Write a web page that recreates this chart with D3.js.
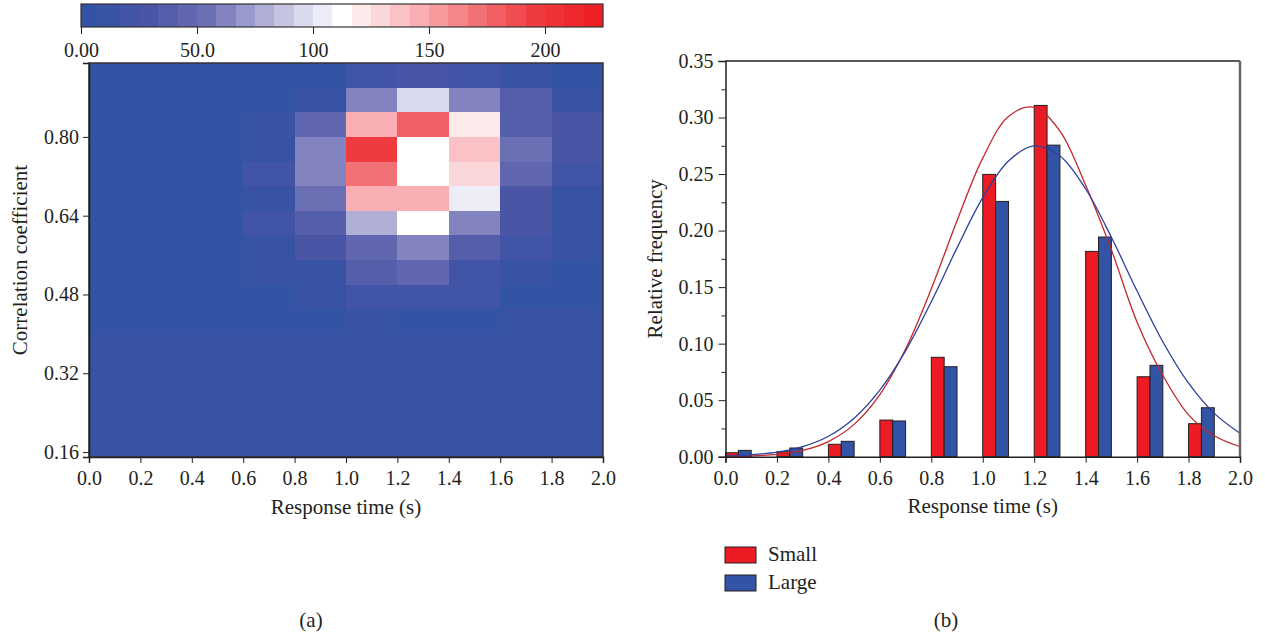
<!DOCTYPE html>
<html>
<head>
<meta charset="utf-8">
<script src="https://cdn.jsdelivr.net/npm/d3@7"></script>
<style>
  body { margin: 0; background: #fff; }
  svg { display: block; font-family: "Liberation Serif", "DejaVu Serif", serif; }
  .tick text { font-family: "Liberation Serif", "DejaVu Serif", serif; font-size: 20px; fill: #231f20; }
  .axis-title { font-family: "Liberation Serif", "DejaVu Serif", serif; font-size: 21px; fill: #231f20; }
</style>
</head>
<body>
<script>
// (a) heatmap: columns are response time bins, rows are correlation bins (top -> bottom)
const timeBins = [0.0, 0.2, 0.4, 0.6, 0.8, 1.0, 1.2, 1.4, 1.6, 1.8]
const corrBins = [0.90, 0.85, 0.80, 0.75, 0.70, 0.65, 0.60, 0.55, 0.50, 0.45, 0.40, 0.35, 0.30, 0.25, 0.20, 0.15]
const heatValues = [
  [4, 4, 4, 4, 4, 21, 29, 21, 12, 4],
  [4, 4, 4, 4, 12, 62, 96, 62, 37, 12],
  [4, 4, 4, 12, 46, 146, 179, 121, 37, 29],
  [4, 4, 4, 12, 62, 196, 112, 137, 54, 29],
  [4, 4, 4, 21, 62, 171, 112, 129, 46, 21],
  [4, 4, 4, 12, 54, 146, 146, 104, 29, 12],
  [4, 4, 4, 21, 37, 79, 112, 62, 29, 12],
  [4, 4, 4, 12, 29, 46, 62, 37, 21, 12],
  [4, 4, 4, 12, 12, 37, 46, 21, 12, 4],
  [4, 4, 4, 4, 12, 21, 21, 21, 4, 4],
  [4, 4, 4, 4, 4, 12, 4, 4, 12, 12],
  [10, 10, 10, 10, 10, 10, 10, 10, 10, 10],
  [10, 10, 10, 10, 10, 10, 10, 10, 10, 10],
  [10, 10, 10, 10, 10, 10, 10, 10, 10, 10],
  [10, 10, 10, 10, 10, 10, 10, 10, 10, 10],
  [10, 10, 10, 10, 10, 10, 10, 10, 10, 10]
]
const corrTicks = [0.16, 0.32, 0.48, 0.64, 0.80]
const colorTicks = [0, 50, 100, 150, 200]
const colorTickLabels = ["0.00", "50.0", "100", "150", "200"]

// (b) histogram + fitted curves
const freqBins = [0.0, 0.2, 0.4, 0.6, 0.8, 1.0, 1.2, 1.4, 1.6, 1.8]
const smallFreq = [0.0035, 0.0044, 0.011, 0.0324, 0.0879, 0.2497, 0.3107, 0.1816, 0.0707, 0.0292]
const largeFreq = [0.0056, 0.0077, 0.0136, 0.0316, 0.0796, 0.2258, 0.2756, 0.1943, 0.0808, 0.0433]
const fitX = [0.0, 0.1, 0.2, 0.3, 0.4, 0.5, 0.6, 0.7, 0.8, 0.9, 1.0, 1.1, 1.2, 1.3, 1.4, 1.5, 1.6, 1.7, 1.8, 1.9, 2.0]
const smallFit = [0.0002, 0.0007, 0.0021, 0.0056, 0.0134, 0.0286, 0.0549, 0.0952, 0.1485, 0.2087, 0.2641, 0.3010, 0.3090, 0.2880, 0.2400, 0.1830, 0.1190, 0.0720, 0.0370, 0.0185, 0.0088]
const largeFit = [0.0006, 0.0017, 0.0040, 0.0089, 0.0181, 0.0341, 0.0589, 0.0936, 0.1371, 0.1847, 0.2291, 0.2616, 0.2749, 0.2659, 0.2368, 0.1941, 0.1465, 0.1017, 0.0650, 0.0383, 0.0207]
const seriesNames = ["Small", "Large"]

const w = 1265
const h = 639
const ink = "#231f20"

const svg = d3.select("body")
  .append("svg")
  .attr("width", w)
  .attr("height", h)

// ---------- colour scale (27 discrete steps, blue - white - red) ----------
const nLevels = 27
const colorMax = 225
const stopLevels = [0, 1, 3, 6, 7, 9, 11, 13, 17, 20, 23, 26]
const stopColors = ["#3353a4", "#3853a4", "#4a55a6", "#6b6fb3", "#8383bf", "#afafd6", "#dadaee", "#ffffff", "#f8aeb2", "#f27176", "#ef3b3f", "#ee2024"]
const levelColor = d3.scaleLinear().domain(stopLevels).range(stopColors).interpolate(d3.interpolateRgb)
const levels = d3.range(nLevels)
const colorScale = d3.scaleQuantize()
  .domain([0, colorMax])
  .range(levels.map(i => levelColor(i)))

// ---------- (a) heatmap ----------
const hx = d3.scaleLinear().domain([0, 2]).range([89, 603])
const hy = d3.scaleLinear().domain([0.15, 0.95]).range([457, 63])

const cells = []
heatValues.forEach((row, r) => {
  row.forEach((v, c) => {
    cells.push({ t: timeBins[c], cr: corrBins[r], v: v })
  })
})

svg.append("g")
  .attr("shape-rendering", "crispEdges")
  .selectAll("rect")
  .data(cells)
  .enter()
  .append("rect")
  .attr("x", d => Math.round(hx(d.t)))
  .attr("y", d => Math.round(hy(d.cr + 0.05)))
  .attr("width", d => Math.round(hx(d.t + 0.2)) - Math.round(hx(d.t)))
  .attr("height", d => Math.round(hy(d.cr)) - Math.round(hy(d.cr + 0.05)))
  .attr("fill", d => colorScale(d.v))

svg.append("rect")
  .attr("x", hx(0))
  .attr("y", hy(0.95))
  .attr("width", hx(2) - hx(0))
  .attr("height", hy(0.15) - hy(0.95))
  .attr("fill", "none")
  .attr("stroke", "#333")
  .attr("stroke-width", 1.5)

const hxAxis = d3.axisBottom(hx)
  .tickValues(d3.range(0, 2.01, 0.2))
  .tickFormat(d3.format(".1f"))
  .tickSize(6)
  .tickPadding(8)
const hyAxis = d3.axisLeft(hy)
  .tickValues(corrTicks)
  .tickFormat(d3.format(".2f"))
  .tickSize(6)
  .tickPadding(4)

svg.append("g")
  .attr("transform", "translate(0," + hy(0.15) + ")")
  .call(hxAxis)
svg.append("g")
  .attr("transform", "translate(" + hx(0) + ",0)")
  .call(hyAxis)

svg.append("text")
  .attr("class", "axis-title")
  .attr("x", (hx(0) + hx(2)) / 2)
  .attr("y", 514)
  .attr("text-anchor", "middle")
  .text("Response time (s)")

svg.append("text")
  .attr("class", "axis-title")
  .attr("transform", "translate(27," + hy(0.55) + ") rotate(-90)")
  .attr("text-anchor", "middle")
  .text("Correlation coefficient")

// colour bar
const cb = d3.scaleLinear().domain([0, colorMax]).range([81, 603])
const step = colorMax / nLevels

svg.append("g")
  .attr("shape-rendering", "crispEdges")
  .selectAll("rect")
  .data(levels)
  .enter()
  .append("rect")
  .attr("x", d => Math.round(cb(d * step)))
  .attr("y", 4)
  .attr("width", d => Math.round(cb((d + 1) * step)) - Math.round(cb(d * step)))
  .attr("height", 23)
  .attr("fill", d => colorScale(d * step + step / 2))

svg.append("rect")
  .attr("x", cb(0))
  .attr("y", 4)
  .attr("width", cb(colorMax) - cb(0))
  .attr("height", 23)
  .attr("fill", "none")
  .attr("stroke", "#333")
  .attr("stroke-width", 1.2)

const cbAxis = d3.axisBottom(cb)
  .tickValues(colorTicks)
  .tickFormat((d, i) => colorTickLabels[i])
  .tickSize(7)
  .tickPadding(9)

svg.append("g")
  .attr("transform", "translate(0,27)")
  .call(cbAxis)
  .call(g => g.select(".domain").remove())

// ---------- (b) histogram ----------
const bx = d3.scaleLinear().domain([0, 2]).range([725.5, 1240])
const by = d3.scaleLinear().domain([0, 0.35]).range([456.7, 61])

// fitted curves
const line = d3.line()
  .x(d => bx(d[0]))
  .y(d => by(d[1]))
  .curve(d3.curveCatmullRom)

const barData = []
freqBins.forEach((b, i) => {
  barData.push({ x: b, v: smallFreq[i], k: 0 })
  barData.push({ x: b, v: largeFreq[i], k: 1 })
})
const barColors = ["#ed1c24", "#3353a4"]
const curveColors = ["#c1272d", "#2e3f9e"]

svg.append("g")
  .selectAll("rect")
  .data(barData)
  .enter()
  .append("rect")
  .attr("x", d => bx(d.x + d.k * 0.05))
  .attr("y", d => by(d.v))
  .attr("width", d => bx(d.x + 0.05) - bx(d.x))
  .attr("height", d => by(0) - by(d.v))
  .attr("fill", d => barColors[d.k])
  .attr("stroke", ink)
  .attr("stroke-width", 1)

svg.append("path")
  .datum(fitX.map((x, i) => [x, smallFit[i]]))
  .attr("d", line)
  .attr("fill", "none")
  .attr("stroke", curveColors[0])
  .attr("stroke-width", 1.3)

svg.append("path")
  .datum(fitX.map((x, i) => [x, largeFit[i]]))
  .attr("d", line)
  .attr("fill", "none")
  .attr("stroke", curveColors[1])
  .attr("stroke-width", 1.3)

// frame: top black, right gray shadow
svg.append("line")
  .attr("x1", bx(0)).attr("x2", bx(2))
  .attr("y1", by(0.35)).attr("y2", by(0.35))
  .attr("stroke", ink)
  .attr("stroke-width", 1.5)
svg.append("line")
  .attr("x1", bx(2)).attr("x2", bx(2))
  .attr("y1", by(0.35)).attr("y2", by(0))
  .attr("stroke", "#666")
  .attr("stroke-width", 2.5)

const bxAxis = d3.axisBottom(bx)
  .tickValues(d3.range(0, 2.01, 0.2))
  .tickFormat(d3.format(".1f"))
  .tickSize(6)
  .tickPadding(8)
const byAxis = d3.axisLeft(by)
  .tickValues(d3.range(0, 0.351, 0.05))
  .tickFormat(d3.format(".2f"))
  .tickSize(7)
  .tickPadding(5)
const byMinor = d3.axisLeft(by)
  .tickValues(d3.range(0.025, 0.35, 0.05))
  .tickFormat("")
  .tickSize(4)

svg.append("g")
  .attr("transform", "translate(0," + by(0) + ")")
  .call(bxAxis)
svg.append("g")
  .attr("transform", "translate(" + bx(0) + ",0)")
  .call(byAxis)
svg.append("g")
  .attr("transform", "translate(" + bx(0) + ",0)")
  .call(byMinor)
  .call(g => g.select(".domain").remove())

svg.selectAll(".domain").attr("stroke", ink).attr("stroke-width", 1.5)
svg.selectAll(".tick line").attr("stroke", ink)

svg.append("text")
  .attr("class", "axis-title")
  .attr("x", (bx(0) + bx(2)) / 2)
  .attr("y", 513)
  .attr("text-anchor", "middle")
  .text("Response time (s)")

svg.append("text")
  .attr("class", "axis-title")
  .attr("transform", "translate(662," + by(0.175) + ") rotate(-90)")
  .attr("text-anchor", "middle")
  .text("Relative frequency")

// legend
const legend = svg.append("g")
  .selectAll("g")
  .data(seriesNames)
  .enter()
  .append("g")
  .attr("transform", (d, i) => "translate(725," + (547 + i * 28) + ")")

legend.append("rect")
  .attr("width", 31)
  .attr("height", 16)
  .attr("fill", (d, i) => barColors[i])
  .attr("stroke", ink)
  .attr("stroke-width", 1)

legend.append("text")
  .attr("class", "axis-title")
  .attr("x", 43)
  .attr("y", 14)
  .text(d => d)

// panel labels
svg.append("text")
  .attr("class", "axis-title")
  .attr("x", 311)
  .attr("y", 627)
  .attr("text-anchor", "middle")
  .text("(a)")

svg.append("text")
  .attr("class", "axis-title")
  .attr("x", 946)
  .attr("y", 627)
  .attr("text-anchor", "middle")
  .text("(b)")
</script>
</body>
</html>
